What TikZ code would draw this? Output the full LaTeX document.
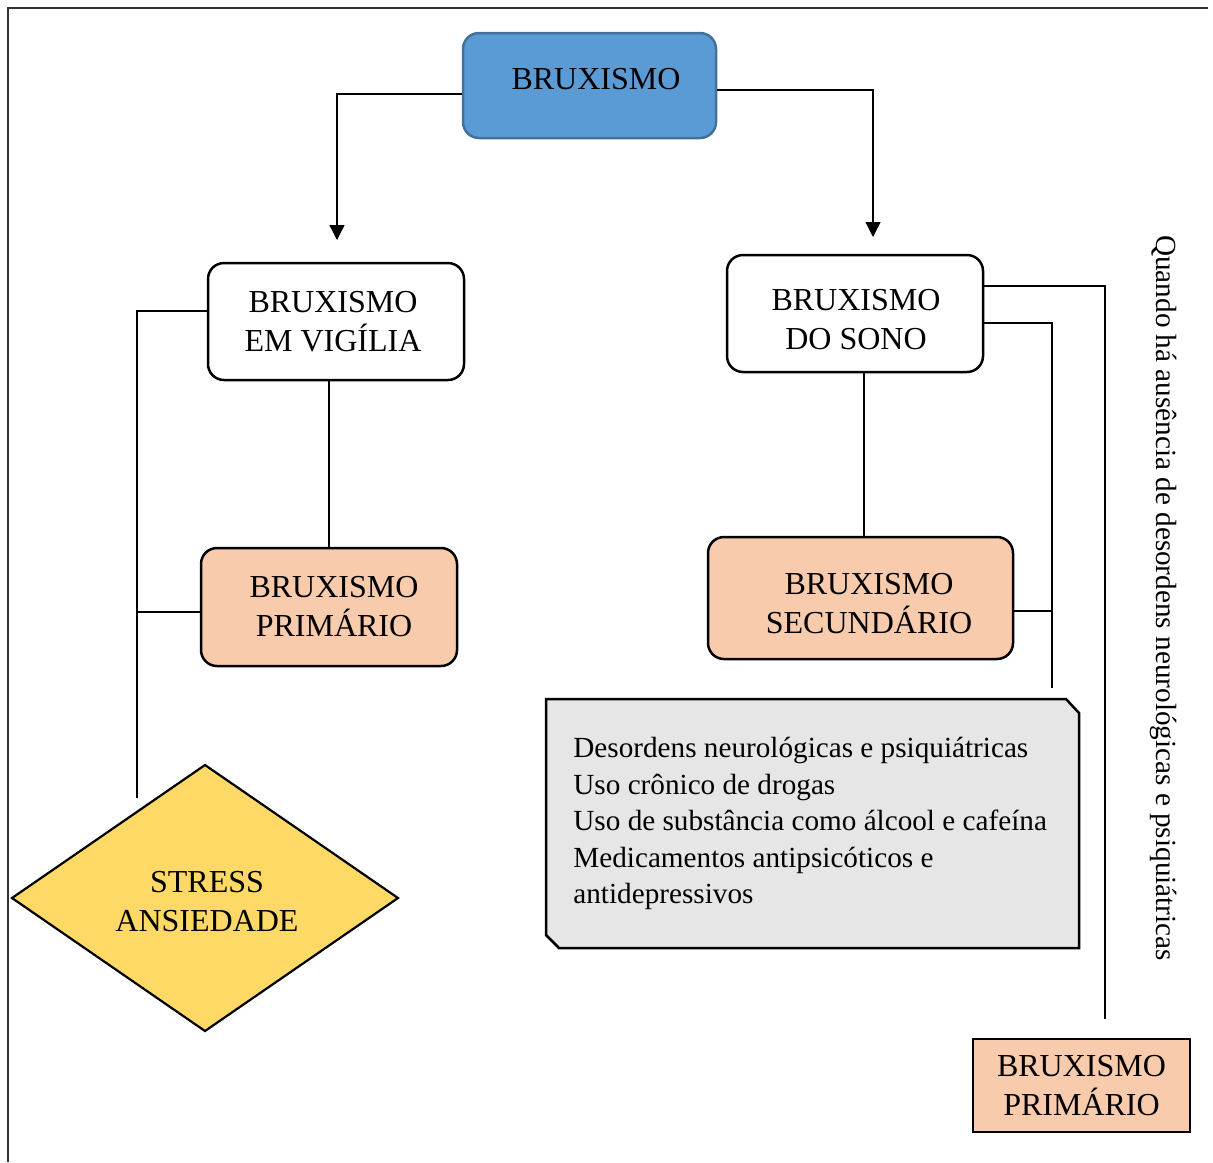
\documentclass[tikz,border=0pt]{standalone}
\usepackage{fontspec}
\setmainfont{Liberation Serif}
\usetikzlibrary{arrows.meta,calc}
\definecolor{peach}{HTML}{F8CBAD}
\definecolor{gold}{HTML}{FFD966}
\definecolor{blu}{HTML}{5B9BD5}
\definecolor{bluedge}{HTML}{41719C}
\definecolor{greyfill}{HTML}{E7E6E6}
\begin{document}
\begin{tikzpicture}[x=0.5pt,y=-0.5pt,
  frame/.style={line width=0.85pt, draw=black!80},
  conn/.style={line width=0.65pt, draw=black},
  arr/.style={conn, -{Triangle[length=7.5pt,width=7.5pt]}},
  bigfont/.style={font=\fontsize{16}{19.5}\selectfont},
  smallfont/.style={font=\fontsize{14.6}{18.25}\selectfont},
  rbox/.style={draw=black, line width=1.25pt, rounded corners=8pt, align=center, inner sep=0pt, bigfont},
  sbox/.style={draw=black, line width=1.25pt, align=center, inner sep=0pt, bigfont},
  btext/.style={align=center, inner sep=0pt, bigfont}
]
\useasboundingbox (0,0) rectangle (1213,1162);
% frame
\draw[frame] (8,1162) -- (8,8) -- (1208,8);

% boxes
\node[rbox, fill=blu, draw=bluedge, minimum width=126.5pt, minimum height=52.5pt] (top) at (589.5,85.5) {};
\node[btext] (toptext) at (596,79) {BRUXISMO};
\node[rbox, fill=white, minimum width=128pt, minimum height=58.5pt] (vig) at (336,321.5) {};
\node[btext] (vigtext) at (333,322) {BRUXISMO\\EM VIGÍLIA};
\node[rbox, fill=peach, minimum width=128pt, minimum height=59pt] (prim1) at (329,607) {};
\node[btext] (prim1text) at (334,607) {BRUXISMO\\PRIMÁRIO};
\node[rbox, fill=white, minimum width=128pt, minimum height=58.5pt] (sono) at (855,313.5) {};
\node[btext] (sonotext) at (856,319.5) {BRUXISMO\\DO SONO};
\node[rbox, fill=peach, minimum width=152.5pt, minimum height=61pt] (sec) at (860.5,598) {};
\node[btext] (sectext) at (869,603.5) {BRUXISMO\\SECUNDÁRIO};
\node[sbox, fill=peach, minimum width=108.5pt, minimum height=46.5pt] (prim2) at (1081.5,1085.5) {BRUXISMO\\PRIMÁRIO};

% diamond
\draw[line width=1.1pt, fill=gold] (12,898) -- (205,765) -- (398,898) -- (205,1031) -- cycle;
\node[btext] (stress) at (207,902) {STRESS\\ANSIEDADE};

% grey box
\draw[line width=1.25pt, fill=greyfill] (546,699) -- (1066,699) -- (1079,713) -- (1079,948) -- (559,948) -- (546,935) -- cycle;
\node[smallfont, align=left, anchor=north west, inner sep=0pt] (causes) at (573,737)
  {Desordens neurológicas e psiquiátricas\\Uso crônico de drogas\\Uso de substância como álcool e cafeína\\Medicamentos antipsicóticos e\\antidepressivos};

% rotated note
\node[smallfont, rotate=-90, inner sep=0pt] (note) at (1163,598) {Quando há ausência de desordens neurológicas e psiquiátricas};

% free ends
\coordinate (aL) at (337,240);
\coordinate (aR) at (873,237);
\coordinate (sL) at (137,798);
\coordinate (r1) at (1105,1019);
\coordinate (r2) at (1052,688);

% connectors
\draw[arr] ($(top.west)+(0,8.5)$) -| (aL);
\draw[arr] ($(top.east)+(0,4.5)$) -| (aR);
\draw[conn] (vig.south -| prim1.north) -- (prim1.north);
\draw[conn] ($(vig.west)+(0,-10.5)$) -| (sL);
\coordinate (p1w) at ($(prim1.west)+(0,5)$);
\draw[conn] (p1w) -- (p1w -| sL);
\draw[conn] ($(sono.south)+(9,0)$) -- ($(sec.north)+(3.5,0)$);
\draw[conn] ($(sono.east)+(0,-27.5)$) -| (r1);
\draw[conn] ($(sono.east)+(0,9.5)$) -| (r2);
\coordinate (secR) at ($(sec.east)+(0,13)$);
\draw[conn] (secR) -- (secR -| r2);
\end{tikzpicture}
\end{document}
